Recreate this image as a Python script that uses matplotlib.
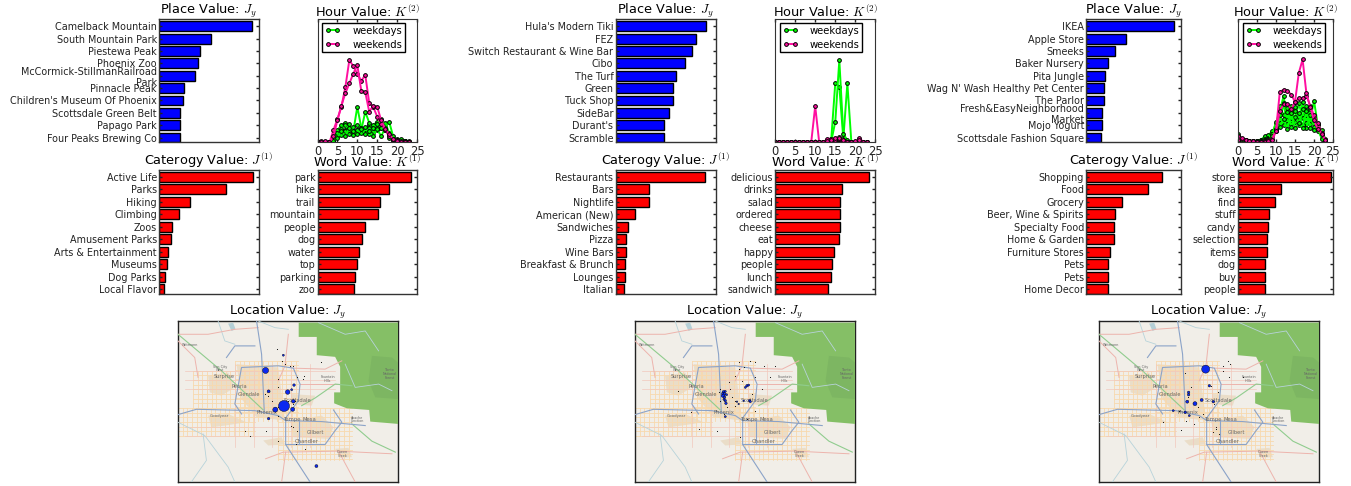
""" yelp factor panels, three columns """
import matplotlib
matplotlib.use("Agg")
import matplotlib.pyplot as plt
from matplotlib.patches import Polygon

plt.rcParams['font.family'] = 'DejaVu Sans'
plt.rcParams['mathtext.fontset'] = 'cm'

WIDTH = 1351.0
HEIGHT = 486.0
HOURS = list(range(24))

# ---- first column
place_names_1 = ["Camelback Mountain", "South Mountain Park", "Piestewa Peak", "Phoenix Zoo",
                 "McCormick-StillmanRailroad\nPark", "Pinnacle Peak", "Children's Museum Of Phoenix",
                 "Scottsdale Green Belt", "Papago Park", "Four Peaks Brewing Co"]
place_values_1 = [.936, .52, .413, .389, .359, .248, .242, .215, .208, .208]
category_names_1 = ["Active Life", "Parks", "Hiking", "Climbing", "Zoos", "Amusement Parks",
                    "Arts & Entertainment", "Museums", "Dog Parks", "Local Flavor"]
category_values_1 = [.946, .671, .309, .198, .128, .117, .087, .077, .06, .047]
word_names_1 = ["park", "hike", "trail", "mountain", "people", "dog", "water", "top", "parking", "zoo"]
word_values_1 = [.943, .715, .628, .607, .477, .443, .416, .396, .376, .366]
weekdays_1 = [
    [0, 0, 0, 0, .03, .10, .14, .16, .13, .09, .29, .12, .10, .14, .08, .10, .12, .13, .06, .03, .02, .02, .01, 0],
    [0, 0, 0, 0, .02, .07, .11, .14, .10, .13, .14, .10, .25, .16, .09, .13, .14, .15, .04, .02, .03, .02, .01, .01],
    [0, 0, 0, 0, .02, .05, .08, .10, .15, .08, .10, .12, .08, .12, .14, .17, .12, .16, .08, .02, .01, .01, 0, 0],
    [0, 0, 0, 0, .01, .08, .06, .09, .07, .06, .10, .08, .13, .07, .12, .15, .19, .10, .07, .03, .01, 0, .01, 0],
    [0, 0, 0, 0, .01, .04, .09, .05, .12, .09, .07, .11, .07, .09, .05, .11, .05, .12, .17, .05, .02, .03, .01, 0],
]
weekends_1 = [
    [0, .01, 0, 0, .10, .19, .29, .45, .67, .62, .56, .50, .55, .32, .29, .21, .15, .10, .05, .03, .02, .01, 0, 0],
    [0, 0, .01, 0, .05, .18, .30, .40, .48, .56, .63, .42, .41, .25, .30, .29, .18, .11, .07, .03, .01, 0, 0, 0],
]
# blue circles on the map: x, y in map pixels, diameter in figure pixels
spot_x_1 = [317, 262, 291, 343, 328, 271, 271, 347, 340, 345, 315, 414]
spot_y_1 = [256, 149, 267, 266, 214, 212, 294, 193, 207, 242, 103, 437]
spot_d_1 = [11, 6, 5, 4, 4.5, 3, 2.5, 2.5, 2, 3.5, 2, 3]
speck_x_1 = [298, 310, 320, 335, 345, 355, 375, 260, 268, 280, 300, 330, 345, 350, 338, 300, 262, 200, 215, 345, 355, 352, 380, 428, 295, 300, 378, 300]
speck_y_1 = [175, 120, 130, 135, 135, 170, 175, 220, 225, 240, 260, 240, 250, 240, 315, 360, 330, 330, 345, 320, 330, 370, 385, 125, 85, 200, 165, 285]
# ---- second column
place_names_2 = ["Hula's Modern Tiki", "FEZ", "Switch Restaurant & Wine Bar", "Cibo", "The Turf",
                 "Green", "Tuck Shop", "SideBar", "Durant's", "Scramble"]
place_values_2 = [.904, .80, .761, .691, .605, .571, .568, .532, .485, .485]
category_names_2 = ["Restaurants", "Bars", "Nightlife", "American (New)", "Sandwiches", "Pizza",
                    "Wine Bars", "Breakfast & Brunch", "Lounges", "Italian"]
category_values_2 = [.89, .336, .332, .196, .123, .103, .10, .096, .09, .086]
word_names_2 = ["delicious", "drinks", "salad", "ordered", "cheese", "eat", "happy", "people", "lunch", "sandwich"]
word_values_2 = [.937, .667, .647, .647, .643, .64, .59, .567, .557, .53]
weekdays_2 = [
    [0] * 14 + [.03, .486, .454, .03, .48, 0, 0, 0, 0, 0],
    [0] * 14 + [.01, .17, .67, .07, .02, 0, 0, 0, 0, 0],
    [0] * 14 + [.01, .02, .044, .02, 0, 0, 0, 0, 0, 0],
    [0] * 14 + [0, .01, .02, .01, 0, 0, 0, 0, 0, 0],
    [0] * 14 + [.01, 0, .03, 0, 0, 0, 0, 0, 0, 0],
]
weekends_2 = [
    [0, 0, 0, 0, 0, 0, 0, 0, 0, 0, .295, 0, 0, .03, .03, .02, .03, 0, 0, 0, 0, .04, 0, 0],
    [0, 0, 0, 0, 0, 0, 0, 0, 0, 0, 0, 0, 0, .01, .02, .04, .04, .02, 0, 0, .01, .02, 0, 0],
]
spot_x_2 = [265, 267, 263, 268, 270, 272, 335, 340, 330, 343, 345, 305, 310, 325, 270, 262, 270, 266, 274]
spot_y_2 = [214, 220, 225, 230, 240, 248, 195, 193, 200, 240, 243, 243, 250, 240, 288, 218, 212, 236, 222]
spot_d_2 = [3, 3, 3.5, 2.5, 2.5, 2.5, 2.5, 2, 2, 2.5, 2, 1.5, 1.5, 1.5, 2, 2, 2, 2, 2]
speck_x_2 = [310, 325, 345, 360, 385, 405, 420, 300, 312, 320, 280, 255, 250, 285, 300, 168, 130, 190, 245, 315, 360, 335, 360, 380, 290, 255, 265, 275, 300, 350]
speck_y_2 = [125, 140, 120, 125, 135, 170, 135, 165, 145, 180, 185, 240, 215, 205, 255, 275, 210, 325, 330, 350, 270, 295, 170, 205, 230, 205, 280, 260, 240, 220]
# ---- third column
place_names_3 = ["IKEA", "Apple Store", "Smeeks", "Baker Nursery", "Pita Jungle",
                 "Wag N' Wash Healthy Pet Center", "The Parlor", "Fresh&EasyNeighborhood\nMarket",
                 "Mojo Yogurt", "Scottsdale Fashion Square"]
place_values_3 = [.923, .42, .308, .231, .196, .192, .189, .168, .168, .157]
category_names_3 = ["Shopping", "Food", "Grocery", "Beer, Wine & Spirits", "Specialty Food", "Home & Garden",
                    "Furniture Stores", "Pets", "Pets", "Home Decor"]
category_values_3 = [.804, .649, .382, .309, .295, .291, .256, .232, .232, .232]
word_names_3 = ["store", "ikea", "find", "stuff", "candy", "selection", "items", "dog", "buy", "people"]
word_values_3 = [.982, .453, .393, .33, .316, .309, .305, .288, .288, .281]
weekdays_3 = [
    [.07, .03, .01, .01, .01, .01, .02, .05, .05, .08, .15, .25, .38, .18, .30, .17, .32, .20, .30, .18, .34, .14, .10, .03],
    [.03, .02, .02, .01, .01, .01, .01, .03, .06, .09, .12, .30, .22, .28, .15, .29, .18, .33, .16, .27, .16, .15, .06, .01],
    [.05, .01, .01, .01, 0, .01, .02, .02, .04, .06, .17, .16, .32, .15, .20, .26, .14, .27, .22, .15, .20, .11, .07, .02],
    [.02, .02, .01, .01, .01, 0, .01, .02, .03, .07, .09, .22, .14, .25, .13, .21, .24, .14, .12, .22, .13, .09, .05, 0],
    [.04, .01, .01, 0, .01, .01, .01, .01, .03, .05, .11, .13, .19, .11, .24, .12, .16, .12, .26, .12, .10, .12, .03, .01],
]
weekends_3 = [
    [.05, .03, .02, .01, .01, 0, 0, .01, .02, .03, .10, .41, .43, .42, .39, .33, .36, .36, .38, .30, .22, .16, .08, .02],
    [.02, .04, .02, .01, .01, 0, 0, 0, .01, .02, .09, .26, .31, .31, .27, .33, .565, .675, .40, .29, .18, .11, .07, .02],
]
spot_x_3 = [319, 287, 307, 264, 268, 268, 342, 330, 258, 222, 270]
spot_y_3 = [145, 249, 238, 243, 215, 222, 243, 195, 275, 270, 285]
spot_d_3 = [8, 4, 3, 3, 2.5, 2.5, 2.5, 2.5, 2.5, 2, 2]
speck_x_3 = [257, 370, 385, 392, 372, 388, 432, 335, 330, 355, 345, 350, 340, 190, 245, 285, 300, 310, 265, 275, 260, 240, 350, 358, 295]
speck_y_3 = [158, 135, 120, 130, 150, 170, 170, 195, 195, 215, 250, 318, 335, 303, 328, 310, 290, 280, 230, 200, 300, 272, 325, 340, 260]

# ---- map background, in map pixels (658 wide, 485 tall)
MAP_W = 658
MAP_H = 485
forest_outline = [(361, 5), (361, 48), (415, 48), (415, 103), (470, 108), (485, 138), (485, 215), (467, 215),
                  (467, 248), (505, 263), (572, 268), (575, 303), (658, 310), (658, 5)]
forest_dark = [(580, 105), (640, 110), (658, 125), (658, 235), (590, 230), (570, 180)]
lake_outline = [(150, 8), (165, 5), (172, 25), (160, 30)]
urban_patches = [
    [(90, 165), (150, 155), (170, 200), (130, 225), (95, 215)],
    [(175, 130), (300, 140), (320, 300), (235, 290), (190, 235)],
    [(340, 220), (410, 225), (400, 255), (335, 250)],
    [(335, 300), (430, 285), (465, 320), (450, 355), (345, 350)],
    [(90, 285), (150, 280), (205, 305), (140, 315), (100, 320)],
    [(255, 360), (310, 350), (320, 372), (270, 375)],
    [(470, 385), (510, 382), (520, 410), (485, 412)],
]
grid_boxes = [(45, 260, 150, 262), (0, 230, 262, 346), (170, 360, 120, 300), (300, 520, 262, 420)]
pink_grid_u = [170, 226, 282, 338, 394]
pink_grid_v = [150, 178, 206, 318, 346]
highways = [
    [(0, 282), (55, 266), (230, 270), (300, 285), (322, 300), (430, 303), (560, 315)],
    [(190, 280), (170, 250), (190, 140), (300, 135), (345, 142), (365, 190), (360, 240), (320, 295)],
    [(235, 0), (250, 100), (258, 272)],
    [(145, 110), (170, 75), (230, 75)],
    [(322, 300), (322, 372), (440, 372), (470, 330), (490, 305), (465, 268)],
    [(322, 372), (395, 485)],
    [(362, 300), (362, 372)],
]
main_roads = [
    [(0, 40), (90, 40), (170, 25), (240, 20)],
    [(330, 40), (320, 135), (300, 180)],
    [(262, 415), (315, 395), (480, 392), (640, 400)],
    [(310, 485), (322, 395)],
    [(480, 392), (530, 485)],
    [(0, 60), (50, 110), (60, 170)],
    [(345, 142), (440, 145), (490, 120)],
    [(365, 190), (480, 190)],
]
rail_lines = [
    [(0, 40), (130, 150), (255, 268)],
    [(370, 255), (410, 232), (470, 190), (520, 195)],
    [(520, 310), (580, 362), (650, 395)],
]
rivers = [
    [(120, 0), (140, 60), (170, 70)],
    [(0, 305), (80, 345), (150, 440), (170, 485)],
    [(500, 130), (530, 200), (600, 190), (640, 210)],
    [(420, 5), (500, 40), (560, 30), (600, 90)],
    [(240, 0), (290, 20), (330, 25)],
    [(75, 340), (85, 420), (40, 485)],
]
place_labels = ["Wittmann", "Sun City\nWest", "Surprise", "Peoria", "Glendale", "Phoenix", "Scottsdale",
                "Tempe", "Mesa", "Gilbert", "Chandler", "Goodyear", "Fountain\nHills", "Apache\nJunction",
                "Queen\nCreek", "Tonto\nNational\nForest"]
place_label_x = [35, 125, 137, 182, 212, 265, 357, 343, 392, 412, 385, 125, 448, 535, 492, 632]
place_label_y = [72, 143, 166, 197, 221, 275, 240, 296, 296, 336, 364, 286, 175, 297, 400, 160]
place_label_pt = [2.4, 2.4, 3.6, 3.6, 3.6, 3.8, 3.8, 3.8, 3.8, 3.6, 3.8, 2.8, 2.4, 2.4, 2.4, 2.4]


def axes_at(fig, left, top, right, bottom):
    """ axes from pixel edges, y going down """
    return fig.add_axes([left / WIDTH, 1 - bottom / HEIGHT, (right - left) / WIDTH, (bottom - top) / HEIGHT])


def draw_bars(ax, names, values, color, title):
    positions = list(range(len(names) - 1, -1, -1))
    ax.barh(positions, values, height=0.8, color=color, edgecolor='black', linewidth=1)
    ax.set_xlim(0, 1)
    ax.set_ylim(-0.4, len(names) - 0.6 + 0.15)
    ax.set_xticks([])
    ax.set_yticks(positions)
    ax.set_yticklabels(names, fontsize=6.95, linespacing=1.15)
    ax.tick_params(axis='y', direction='in', left=True, right=True, length=2.5, width=1, pad=1.5, colors='#222222')
    ax.set_title(title, fontsize=9.3, pad=1.5)
    for spine in ax.spines.values():
        spine.set_linewidth(1)
        spine.set_color('#333333')


def draw_hours(ax, weekdays, weekends):
    for i, series in enumerate(weekdays):
        ax.plot(HOURS, series, color='#00ff00', lw=1.4, marker='o', ms=2.7, mec='black', mew=0.7,
                label='weekdays' if i == 0 else None)
    for i, series in enumerate(weekends):
        ax.plot(HOURS, series, color='#ff0fa0', lw=1.4, marker='o', ms=2.7, mec='black', mew=0.7,
                label='weekends' if i == 0 else None)
    ax.set_xlim(0, 25)
    ax.set_ylim(0, 1)
    ax.set_yticks([])
    ax.set_xticks([0, 5, 10, 15, 20, 25])
    ax.tick_params(axis='x', direction='in', top=True, length=2.5, width=1, labelsize=8.3, pad=1.5, colors='#222222')
    ax.set_title(r'Hour Value: $K^{(2)}$', fontsize=9.3, pad=1.5)
    legend = ax.legend(loc='upper left', bbox_to_anchor=(0.05, 0.972), fontsize=7.2, fancybox=False, framealpha=1,
                       borderaxespad=0, handlelength=1.5, handletextpad=1.2, numpoints=2, labelspacing=0.38,
                       borderpad=0.28)
    legend.get_frame().set_edgecolor('black')
    legend.get_frame().set_linewidth(1)
    for spine in ax.spines.values():
        spine.set_color('#333333')


def draw_map(ax, spot_x, spot_y, spot_d, speck_x, speck_y):
    ax.set_facecolor('#f1eee8')
    for patch in urban_patches:
        ax.add_patch(Polygon(patch, closed=True, fc='#eaddc8', ec='none', zorder=1))
    for left, right, top, bottom in grid_boxes:
        for u in range(left, right + 1, 14):
            ax.plot([u, u], [top, bottom], color='#f8d9ae', lw=0.6, zorder=2)
        for v in range(top, bottom + 1, 14):
            ax.plot([left, right], [v, v], color='#f8d9ae', lw=0.6, zorder=2)
    for u in pink_grid_u:
        ax.plot([u, u], [130, 380], color='#f2c8bc', lw=0.5, zorder=2)
    for v in pink_grid_v:
        ax.plot([20, 470], [v, v], color='#f2c8bc', lw=0.5, zorder=2)
    ax.add_patch(Polygon(forest_outline, closed=True, fc='#85bf66', ec='none', zorder=3))
    ax.add_patch(Polygon(forest_dark, closed=True, fc='#7db662', ec='none', zorder=3))
    ax.add_patch(Polygon(lake_outline, closed=True, fc='#b5cfd6', ec='none', zorder=3))
    for line in rivers:
        ax.plot(*zip(*line), color='#b7d3da', lw=0.6, zorder=4)
    for line in main_roads:
        ax.plot(*zip(*line), color='#edb4ad', lw=0.7, zorder=4)
    for line in rail_lines:
        ax.plot(*zip(*line), color='#90cc8e', lw=0.8, zorder=4)
    for line in highways:
        ax.plot(*zip(*line), color='#8ba3c8', lw=0.8, zorder=5)
    for name, u, v, size in zip(place_labels, place_label_x, place_label_y, place_label_pt):
        ax.text(u, v, name, fontsize=size, color='#666666', ha='center', va='center', linespacing=0.9, zorder=6)
    ax.scatter(speck_x, speck_y, s=0.6, color='black', linewidths=0, zorder=7)
    sizes = [(d * 0.72) ** 2 for d in spot_d]
    ax.scatter(spot_x, spot_y, s=sizes, color='#0a28f0', edgecolors='black', linewidths=0.3, zorder=8)
    ax.set_xlim(0, MAP_W)
    ax.set_ylim(MAP_H, 0)
    ax.set_xticks([])
    ax.set_yticks([])
    ax.set_title(r'Location Value: $J_y$', fontsize=9.3, pad=1.5)
    for spine in ax.spines.values():
        spine.set_linewidth(1)
        spine.set_color('#222222')


def draw_column(fig, edges, map_edges, place, category, word, weekdays, weekends, spots, specks):
    left1, right1, left2, right2 = edges
    draw_bars(axes_at(fig, left1, 19.5, right1, 142.5), place[0], place[1], '#0000ff', r'Place Value: $J_y$')
    draw_hours(axes_at(fig, left2, 19.5, right2, 142.5), weekdays, weekends)
    draw_bars(axes_at(fig, left1, 170, right1, 294), category[0], category[1], '#ff0000', r'Caterogy Value: $J^{(1)}$')
    draw_bars(axes_at(fig, left2, 170, right2, 294), word[0], word[1], '#ff0000', r'Word Value: $K^{(1)}$')
    draw_map(axes_at(fig, map_edges[0], 321, map_edges[1], 482), spots[0], spots[1], spots[2], specks[0], specks[1])


def main():
    fig = plt.figure(figsize=(WIDTH / 100, HEIGHT / 100), dpi=100)
    draw_column(fig, (159, 258.5, 317.5, 417), (178, 398),
                (place_names_1, place_values_1), (category_names_1, category_values_1),
                (word_names_1, word_values_1), weekdays_1, weekends_1,
                (spot_x_1, spot_y_1, spot_d_1), (speck_x_1, speck_y_1))
    draw_column(fig, (615.5, 716, 775, 875.5), (635, 855),
                (place_names_2, place_values_2), (category_names_2, category_values_2),
                (word_names_2, word_values_2), weekdays_2, weekends_2,
                (spot_x_2, spot_y_2, spot_d_2), (speck_x_2, speck_y_2))
    draw_column(fig, (1086, 1181, 1238, 1333), (1099, 1319),
                (place_names_3, place_values_3), (category_names_3, category_values_3),
                (word_names_3, word_values_3), weekdays_3, weekends_3,
                (spot_x_3, spot_y_3, spot_d_3), (speck_x_3, speck_y_3))
    fig.savefig('out.png', dpi=100)


if __name__ == "__main__":
    main()
